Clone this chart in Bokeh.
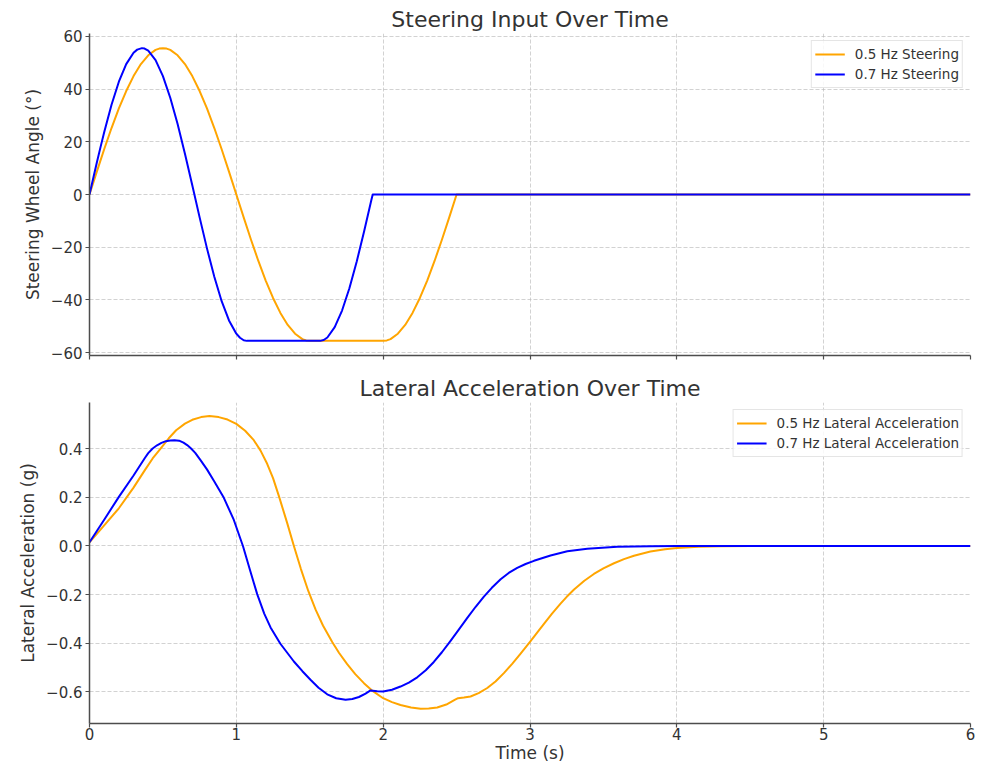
from bokeh.plotting import figure
from bokeh.layouts import column
from bokeh.models import FixedTicker, Range1d, CustomLabelingPolicy
from bokeh.embed import file_html
from bokeh.resources import INLINE

# ---------------- data ----------------
steer_05_t = [0.00, 0.05, 0.10, 0.15, 0.20, 0.25, 0.30, 0.35, 0.40, 0.45, 0.475, 0.50, 0.525,
              0.55, 0.60, 0.65, 0.70, 0.75, 0.80, 0.85, 0.90, 0.95, 1.00,
              1.05, 1.10, 1.15, 1.20, 1.25, 1.30, 1.35, 1.40, 1.45, 1.475, 1.50,
              2.00, 2.025, 2.05, 2.10, 2.15, 2.20, 2.25, 2.30, 2.35, 2.40, 2.45, 2.50, 6.00]
steer_05_v = [0.0, 8.68, 17.15, 25.20, 32.62, 39.24, 44.90, 49.45, 52.78, 54.82, 55.33, 55.50, 55.33,
              54.82, 52.78, 49.45, 44.90, 39.24, 32.62, 25.20, 17.15, 8.68, 0.0,
              -8.68, -17.15, -25.20, -32.62, -39.24, -44.90, -49.45, -52.78, -54.82, -55.33, -55.50,
              -55.50, -55.33, -54.82, -52.78, -49.45, -44.90, -39.24, -32.62, -25.20, -17.15, -8.68, 0.0, 0.0]

steer_07_t = [0.00, 0.025, 0.05, 0.075, 0.10, 0.15, 0.20, 0.25, 0.30, 0.325, 0.357, 0.375, 0.40, 0.45, 0.50,
              0.55, 0.60, 0.65, 0.70, 0.75, 0.80, 0.85, 0.90, 0.95, 1.00, 1.025, 1.05, 1.071,
              1.571, 1.595, 1.62, 1.67, 1.72, 1.77, 1.82, 1.87, 1.92, 1.929, 6.00]
steer_07_v = [0.0, 6.09, 12.10, 17.97, 23.63, 34.02, 42.76, 49.45, 53.76, 54.94, 55.50, 55.33, 54.52, 50.94, 44.90,
              36.70, 26.74, 15.48, 3.49, -8.68, -20.43, -31.20, -40.46, -47.77, -52.78, -54.33, -55.28, -55.50,
              -55.50, -55.19, -54.22, -50.32, -44.00, -35.57, -25.41, -14.04, -1.99, 0.0, 0.0]

lat_05_t = [0.0, 0.1, 0.2, 0.3, 0.377, 0.43, 0.484, 0.54, 0.59, 0.65, 0.70, 0.76, 0.817,
            0.88, 0.94, 1.0, 1.06, 1.119, 1.165, 1.21, 1.25, 1.29, 1.347, 1.392, 1.44,
            1.49, 1.54, 1.59, 1.653, 1.70, 1.755, 1.81, 1.869, 1.93, 2.0, 2.06, 2.118,
            2.19, 2.255, 2.31, 2.368, 2.43, 2.49, 2.51, 2.55, 2.595, 2.65, 2.709, 2.765,
            2.822, 2.88, 2.936, 3.0, 3.05, 3.095, 3.15, 3.208, 3.25, 3.30, 3.37, 3.435,
            3.5, 3.572, 3.64, 3.708, 3.82, 3.92, 4.0, 4.15, 4.3, 4.5, 6.0]
lat_05_v = [0.015, 0.085, 0.155, 0.240, 0.312, 0.360, 0.400, 0.443, 0.476, 0.503, 0.519, 0.530, 0.534,
            0.530, 0.520, 0.502, 0.474, 0.435, 0.392, 0.338, 0.279, 0.205, 0.093, 0.0, -0.095,
            -0.185, -0.262, -0.327, -0.395, -0.440, -0.486, -0.527, -0.564, -0.597, -0.626, -0.642, -0.654,
            -0.664, -0.669, -0.668, -0.664, -0.652, -0.632, -0.626, -0.623, -0.619, -0.605, -0.584, -0.557,
            -0.523, -0.484, -0.443, -0.394, -0.355, -0.320, -0.278, -0.237, -0.209, -0.179, -0.143, -0.115,
            -0.092, -0.071, -0.054, -0.040, -0.023, -0.013, -0.008, -0.003, -0.001, 0.0, 0.0]

lat_07_t = [0.0, 0.1, 0.2, 0.3, 0.377, 0.40, 0.43, 0.46, 0.49, 0.52, 0.55, 0.579, 0.61, 0.64, 0.665,
            0.69, 0.72, 0.756, 0.80, 0.847, 0.915, 0.983, 1.045, 1.095, 1.142, 1.19, 1.233, 1.30, 1.392, 1.45,
            1.505, 1.56, 1.619, 1.68, 1.744, 1.79, 1.835, 1.88, 1.914, 1.96, 2.0, 2.06,
            2.118, 2.175, 2.232, 2.29, 2.345, 2.40, 2.459, 2.515, 2.573, 2.63, 2.686, 2.74,
            2.80, 2.855, 2.913, 2.97, 3.027, 3.14, 3.254, 3.39, 3.594, 3.82, 4.0, 6.0]
lat_07_v = [0.015, 0.108, 0.202, 0.290, 0.362, 0.382, 0.401, 0.414, 0.424, 0.431, 0.434, 0.435, 0.433, 0.425, 0.415,
            0.402, 0.383, 0.353, 0.315, 0.268, 0.198, 0.107, 0.0, -0.103, -0.198, -0.278, -0.335, -0.402, -0.475, -0.515,
            -0.550, -0.583, -0.610, -0.626, -0.632, -0.629, -0.621, -0.607, -0.594, -0.597, -0.598, -0.591,
            -0.578, -0.562, -0.540, -0.511, -0.477, -0.437, -0.390, -0.344, -0.296, -0.250, -0.208, -0.172,
            -0.137, -0.111, -0.090, -0.074, -0.061, -0.039, -0.022, -0.011, -0.003, -0.001, 0.0, 0.0]

x_ticks = [0, 1, 2, 3, 4, 5, 6]
steer_ticks = [-60, -40, -20, 0, 20, 40, 60]
steer_tick_labels = ["\u221260", "\u221240", "\u221220", "0", "20", "40", "60"]
lat_ticks = [-0.6, -0.4, -0.2, 0.0, 0.2, 0.4]
lat_tick_labels = ["\u22120.6", "\u22120.4", "\u22120.2", "0.0", "0.2", "0.4"]

ORANGE = "#FFA500"
BLUE = "#0000FF"
FONT = "DejaVu Sans"
TXT = "#333333"
AXC = "#4d4d4d"


def style(p, show_x_labels):
    p.title.text_font = FONT
    p.title.text_font_size = "22px"
    p.title.text_font_style = "normal"
    p.title.text_color = TXT
    p.title.align = "center"
    p.title.standoff = 4
    for ax in (p.xaxis[0], p.yaxis[0]):
        ax.axis_line_color = AXC
        ax.axis_line_width = 1.5
        ax.major_tick_line_color = AXC
        ax.major_tick_line_width = 1.2
        ax.major_tick_out = 4
        ax.major_tick_in = 0
        ax.minor_tick_line_color = None
        ax.major_label_text_font = FONT
        ax.major_label_text_font_size = "15px"
        ax.major_label_text_color = TXT
        ax.axis_label_text_font = FONT
        ax.axis_label_text_font_size = "17px"
        ax.axis_label_text_font_style = "normal"
        ax.axis_label_text_color = TXT
        ax.major_label_standoff = 3
    p.yaxis[0].axis_label_standoff = 5
    p.xaxis[0].axis_label_standoff = 0
    p.xaxis[0].major_label_standoff = 0
    if not show_x_labels:
        p.xaxis[0].major_label_policy = CustomLabelingPolicy(
            code="for (const i of indices) { indices.unset(i) }\nreturn indices")
        p.xaxis[0].major_label_text_font_size = "0px"
    p.xaxis[0].ticker = FixedTicker(ticks=x_ticks)
    for g in (p.xgrid[0], p.ygrid[0]):
        g.grid_line_color = "#b8b8b8"
        g.grid_line_alpha = 0.8
        g.grid_line_dash = "4 2"
        g.grid_line_width = 0.8
    p.outline_line_color = None
    p.background_fill_color = "white"
    p.border_fill_color = "white"
    for r in p.renderers:
        r.glyph.line_join = "round"
    lg = p.legend[0]
    lg.location = "top_right"
    lg.margin = 7
    lg.padding = 3
    lg.spacing = 0
    lg.label_text_font = FONT
    lg.label_text_font_size = "13.5px"
    lg.label_text_color = TXT
    lg.glyph_width = 30
    lg.glyph_height = 20
    lg.label_height = 20
    lg.label_standoff = 10
    lg.border_line_color = "#cccccc"
    lg.border_line_width = 1
    lg.background_fill_alpha = 0.85


p1 = figure(width=987, height=368, output_backend="svg", toolbar_location=None,
            title="Steering Input Over Time",
            x_range=Range1d(0, 6), y_range=Range1d(-61.05, 61.05),
            min_border_left=89, min_border_right=17, min_border_top=33, min_border_bottom=13)
p1.line(steer_05_t, steer_05_v, color=ORANGE, line_width=2, legend_label="0.5 Hz Steering")
p1.line(steer_07_t, steer_07_v, color=BLUE, line_width=2, legend_label="0.7 Hz Steering")
p1.yaxis.axis_label = "Steering Wheel Angle (\u00b0)"
style(p1, False)
p1.yaxis[0].ticker = FixedTicker(ticks=steer_ticks)
p1.yaxis[0].major_label_overrides = dict(zip(steer_ticks, steer_tick_labels))

p2 = figure(width=987, height=397, output_backend="svg", toolbar_location=None,
            title="Lateral Acceleration Over Time",
            x_range=Range1d(0, 6), y_range=Range1d(-0.73, 0.59),
            min_border_left=89, min_border_right=17, min_border_top=34, min_border_bottom=42)
p2.line(lat_05_t, lat_05_v, color=ORANGE, line_width=2, legend_label="0.5 Hz Lateral Acceleration")
p2.line(lat_07_t, lat_07_v, color=BLUE, line_width=2, legend_label="0.7 Hz Lateral Acceleration")
p2.yaxis.axis_label = "Lateral Acceleration (g)"
p2.xaxis.axis_label = "Time (s)"
style(p2, True)
p2.yaxis[0].ticker = FixedTicker(ticks=lat_ticks)
p2.yaxis[0].major_label_overrides = dict(zip(lat_ticks, lat_tick_labels))

layout = column(p1, p2, spacing=0)
open("out.html", "w").write(file_html(layout, INLINE))
